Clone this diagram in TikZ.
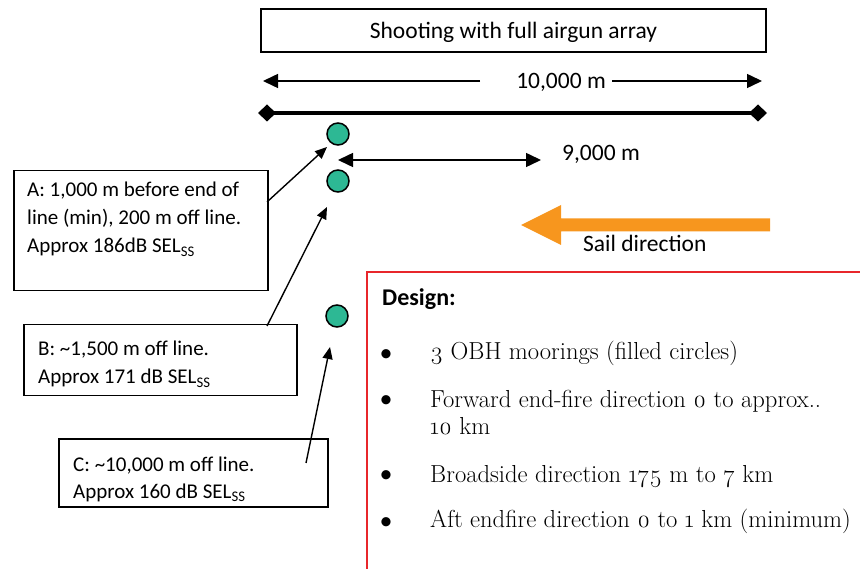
\documentclass[tikz,border=0pt]{standalone}
\usepackage{fontspec}
\setsansfont{Carlito}
\newfontfamily\calfont{Carlito}
\newfontfamily\bodyfont{Latin Modern Roman}[Numbers=OldStyle]
\usetikzlibrary{arrows.meta}
\definecolor{buoy}{RGB}{45,184,148}
\definecolor{sail}{RGB}{247,150,30}
\definecolor{redline}{RGB}{232,38,43}
\tikzset{
  box/.style={draw, line width=1.5pt, inner sep=0pt, anchor=north west},
  lbl/.style={font=\calfont\fontsize{21}{28}\selectfont, anchor=base west, inner sep=0pt},
  big/.style={font=\calfont\fontsize{23.5}{28}\selectfont, inner sep=0pt},
  buoynode/.style={circle, draw, fill=buoy, line width=1.5pt, minimum size=22pt, inner sep=0pt},
  ptr/.style={line width=1.4pt, -{Triangle[length=12pt,width=10pt]}},
  dimarrow/.style={line width=1.5pt, -{Triangle[length=15pt,width=14pt]}},
  bul/.style={font=\bodyfont\fontsize{24.6}{28}\selectfont, anchor=base west, inner sep=0pt},
  bulmark/.style={font=\calfont\fontsize{26}{28}\selectfont, anchor=base, inner sep=0pt},
}
\begin{document}
\begin{tikzpicture}[x=1pt,y=-1pt]
\useasboundingbox (0,0) rectangle (860,569);
% title
\node[draw, line width=1.5pt, minimum width=505pt, minimum height=43pt, inner sep=0pt] (titlebox) at (513.5,30.5) {};
\node[big, anchor=base] (title) at (513.5,38.5) {Shooting with full airgun array};
% 10,000 m dimension
\node[big, anchor=base] (d10) at (561,89) {10,000 m};
\coordinate (l10s) at (480,81); \coordinate (l10e) at (263,81);
\coordinate (r10s) at (612,81); \coordinate (r10e) at (762,81);
\draw[dimarrow] (l10s) -- (l10e);
\draw[dimarrow] (r10s) -- (r10e);
% shooting line
\coordinate (ls) at (258,113); \coordinate (le) at (767,113);
\draw[line width=4pt, {Diamond[length=18pt,width=17pt]}-{Diamond[length=18pt,width=17pt]}] (ls) -- (le);
% buoys
\node[buoynode] (b1) at (338,134) {};
\node[buoynode] (b2) at (338,181) {};
\node[buoynode] (b3) at (337,316) {};
% 9,000 m
\coordinate (n9s) at (338,160); \coordinate (n9e) at (541,160);
\draw[line width=1.5pt, {Triangle[length=15pt,width=14pt]}-{Triangle[length=15pt,width=14pt]}] (n9s) -- (n9e);
\node[big, anchor=base west] (d9) at (562,161) {9,000 m};
% sail direction
\fill[sail] (770,218.5) -- (561,218.5) -- (561,205) -- (521,225) -- (561,245) -- (561,231.5) -- (770,231.5) -- cycle;
\node[big, anchor=base west] (sailtxt) at (583,252) {Sail direction};
% box A
\node[box, minimum width=254pt, minimum height=120pt] (boxA) at (13,170) {};
\node[lbl] (a1) at (27,197) {A: 1,000 m before end of};
\node[lbl] (a2) at (27,225) {line (min), 200 m off line.};
\node[lbl] (a3) at (27,253) {Approx 186dB SEL\textsubscript{SS}};
% box B
\node[box, minimum width=273pt, minimum height=71pt] (boxB) at (23,324) {};
\node[lbl] (bl1) at (38,356) {B: \textasciitilde1,500 m off line.};
\node[lbl] (bl2) at (38,384) {Approx 171 dB SEL\textsubscript{SS}};
% box C
\node[box, minimum width=269pt, minimum height=68pt] (boxC) at (58,438) {};
\node[lbl] (c1) at (73,471) {C: \textasciitilde10,000 m off line.};
\node[lbl] (c2) at (73,498) {Approx 160 dB SEL\textsubscript{SS}};
% pointers
\coordinate (pa) at (267,202); \coordinate (pat) at (327,147);
\coordinate (pb) at (267,326); \coordinate (pbt) at (327,207);
\coordinate (pc) at (306,463); \coordinate (pct) at (330,347);
\draw[ptr] (pa) -- (pat);
\draw[ptr] (pb) -- (pbt);
\draw[ptr] (pc) -- (pct);
% design panel
\coordinate (r1) at (367,569); \coordinate (r2) at (367,272); \coordinate (r3) at (860,272);
\draw[redline, line width=1.5pt] (r1) -- (r2) -- (r3);
\node[font=\calfont\bfseries\fontsize{24}{28}\selectfont, anchor=base west, inner sep=0pt] (design) at (382,306) {Design:};
\node[bulmark] (u1) at (386,362) {\textbullet};
\node[bulmark] (u2) at (386,407) {\textbullet};
\node[bulmark] (u3) at (386,482) {\textbullet};
\node[bulmark] (u4) at (386,529) {\textbullet};
\node[bul] (t1) at (430,360) {3 OBH moorings (filled circles)};
\node[bul] (t2) at (430,407) {Forward end-fire direction 0 to approx..};
\node[bul] (t2b) at (430,435) {10 km};
\node[bul] (t3) at (430,482) {Broadside direction 175 m to 7 km};
\node[bul] (t4) at (430,527) {Aft endfire direction 0 to 1 km (minimum)};
\end{tikzpicture}
\end{document}
